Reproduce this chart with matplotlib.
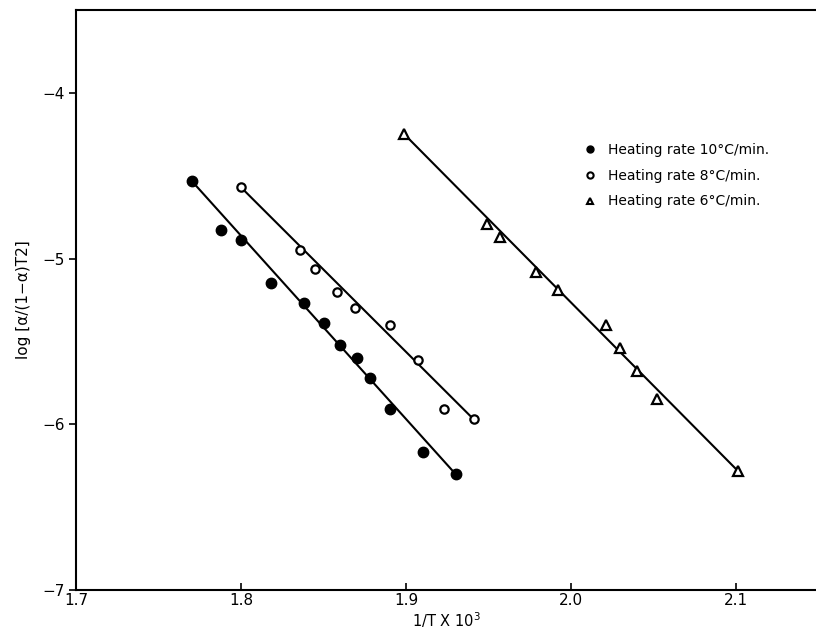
import numpy as np
import matplotlib
matplotlib.use("Agg")
import matplotlib.pyplot as plt
from matplotlib.lines import Line2D

# Heating rate 10 C/min (filled circles)
x10 = [1.770, 1.788, 1.800, 1.818, 1.838, 1.850, 1.860, 1.870, 1.878, 1.890, 1.910, 1.930]
y10 = [-4.53, -4.83, -4.89, -5.15, -5.27, -5.39, -5.52, -5.60, -5.72, -5.91, -6.17, -6.30]

# Heating rate 8 C/min (open circles)
x8 = [1.800, 1.836, 1.845, 1.858, 1.869, 1.890, 1.907, 1.923, 1.941]
y8 = [-4.57, -4.95, -5.06, -5.20, -5.30, -5.40, -5.61, -5.91, -5.97]

# Heating rate 6 C/min (triangles)
x6 = [1.899, 1.949, 1.957, 1.979, 1.992, 2.021, 2.030, 2.040, 2.052, 2.101]
y6 = [-4.25, -4.79, -4.87, -5.08, -5.19, -5.40, -5.54, -5.68, -5.85, -6.28]

labels = ["Heating rate 10°C/min.", "Heating rate 8°C/min.", "Heating rate 6°C/min."]
xticks = [1.7, 1.8, 1.9, 2.0, 2.1]
yticks = [-7, -6, -5, -4]

fig = plt.figure(figsize=(8.16, 6.33), dpi=100)
ax = fig.add_axes([76/816, 1 - 590/633, 740/816, 580/633])

def end_line(xs, ys):
    xs = np.asarray(xs); ys = np.asarray(ys)
    xe = np.array([xs.min(), xs.max()])
    return xe, np.array([ys[np.argmin(xs)], ys[np.argmax(xs)]])

for xs, ys in [(x10, y10), (x8, y8), (x6, y6)]:
    lx, ly = end_line(xs, ys)
    ax.plot(lx, ly, color="black", lw=1.5, zorder=1)

ax.plot(x10, y10, "o", color="black", ms=7.5, zorder=3)
ax.plot(x8, y8, "o", mfc="white", mec="black", mew=1.6, ms=6, zorder=3)
ax.plot(x6, y6, "^", mfc="white", mec="black", mew=1.6, ms=7.5, zorder=3)

ax.set_xlim(1.7, 1.7 + 740/1650)
ax.set_ylim(-7, -3.5)
ax.set_xticks(xticks)
ax.set_xticklabels([f"{t:.1f}" for t in xticks])
ax.set_yticks(yticks)
ax.set_yticklabels([f"\u2212{abs(t)}" for t in yticks])
ax.tick_params(axis="x", direction="in", length=5, width=1.2, labelsize=11, pad=2)
ax.tick_params(axis="y", direction="out", length=5, width=1.2, labelsize=11, pad=3)

for s in ["left", "bottom", "top"]:
    ax.spines[s].set_linewidth(1.5)
ax.spines["right"].set_visible(False)

ax.set_xlabel("1/T X 10$^3$", fontsize=10.5, labelpad=2)
ax.set_ylabel("log [α/(1−α)T2]", fontsize=11, labelpad=8)

handles = [
    Line2D([], [], ls="none", marker="o", color="black", ms=5),
    Line2D([], [], ls="none", marker="o", mfc="white", mec="black", mew=1.5, ms=4.5),
    Line2D([], [], ls="none", marker="^", mfc="white", mec="black", mew=1.5, ms=5),
]
ax.legend(handles, labels, loc="upper left", bbox_to_anchor=(0.685, 0.7705),
          frameon=False, fontsize=10, handlelength=1.0, handletextpad=0.84,
          labelspacing=0.84, borderpad=0, borderaxespad=0)

fig.savefig("out.png", dpi=100)
